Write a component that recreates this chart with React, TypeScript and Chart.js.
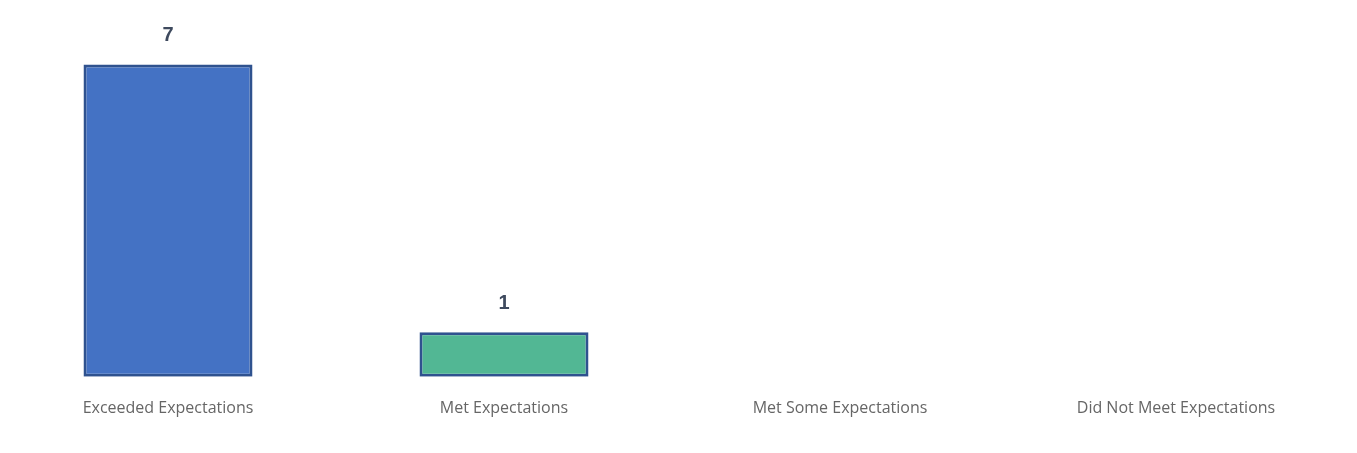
import React, { useEffect, useRef } from "react";
import { Chart, registerables } from "chart.js";

Chart.register(...registerables);

const categories: string[] = [
  "Exceeded Expectations",
  "Met Expectations",
  "Met Some Expectations",
  "Did Not Meet Expectations",
];
const counts: number[] = [7, 1, 0, 0];
const barColors: string[] = ["#4472C4", "#52B794", "#4472C4", "#4472C4"];
const borderColor = "#2F528F";
const yMax = 8;

const valueLabels = {
  id: "valueLabels",
  afterDatasetsDraw(chart: any) {
    const ctx = chart.ctx;
    const meta = chart.getDatasetMeta(0);
    ctx.save();
    ctx.font = "bold 20px 'Liberation Sans', Arial, sans-serif";
    ctx.fillStyle = "#3E4A5E";
    ctx.textAlign = "center";
    ctx.textBaseline = "middle";
    meta.data.forEach((bar: any, i: number) => {
      const v = counts[i];
      if (!v) return;
      ctx.fillText(String(v), bar.x, bar.y - 29);
    });
    ctx.restore();
  },
};

export default function App() {
  const ref = useRef<HTMLCanvasElement | null>(null);
  useEffect(() => {
    if (!ref.current) return;
    const chart = new Chart(ref.current, {
      type: "bar",
      data: {
        labels: categories,
        datasets: [
          {
            data: counts,
            backgroundColor: barColors,
            borderColor: borderColor,
            borderWidth: 3,
            borderSkipped: false,
            categoryPercentage: 1,
            barPercentage: 0.503,
          },
        ],
      },
      options: {
        animation: false,
        responsive: true,
        maintainAspectRatio: false,
        layout: { padding: { left: 0, right: 13, top: 20, bottom: 13 } },
        plugins: {
          legend: { display: false },
          tooltip: { enabled: false },
        },
        scales: {
          x: {
            grid: { display: false, drawTicks: false },
            border: { display: false },
            ticks: {
              color: "#666666",
              padding: 22,
              maxRotation: 0,
              autoSkip: false,
              font: { family: "'Open Sans', sans-serif", size: 16 },
            },
          },
          y: {
            display: false,
            min: 0,
            max: yMax,
          },
        },
      },
      plugins: [valueLabels],
    });
    return () => chart.destroy();
  }, []);
  return (
    <div style={{ position: "absolute", left: 0, top: 0, width: 1357, height: 453, background: "#fff" }}>
      <canvas ref={ref} />
    </div>
  );
}
